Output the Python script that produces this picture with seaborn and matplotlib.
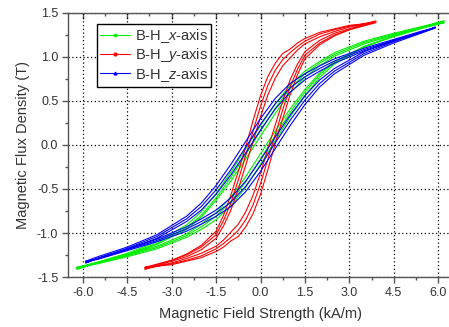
import numpy as np
import pandas as pd
import matplotlib
matplotlib.use("Agg")
import matplotlib.pyplot as plt
from matplotlib.lines import Line2D
from matplotlib.ticker import MultipleLocator
import seaborn as sns

# %% data: B-H loops (H in kA/m, B in T), ascending and descending branches per cycle
H_x = [-6.2, -5.5, -4.5, -3.5, -2.5, -2.0, -1.5, -1.0, -0.5, 0.0, 0.5, 1.0, 1.5, 2.0, 2.5, 3.5, 4.5, 5.5, 6.2]
Bx_up = [
    [-1.40, -1.345, -1.26, -1.165, -1.03, -0.93, -0.81, -0.64, -0.42, -0.16, 0.11, 0.37, 0.60, 0.80, 0.94, 1.12, 1.24, 1.335, 1.40],
    [-1.39, -1.35, -1.27, -1.18, -1.05, -0.96, -0.85, -0.69, -0.48, -0.22, 0.05, 0.32, 0.56, 0.77, 0.92, 1.11, 1.24, 1.34, 1.41],
    [-1.41, -1.34, -1.25, -1.15, -1.01, -0.90, -0.77, -0.59, -0.36, -0.10, 0.16, 0.41, 0.63, 0.82, 0.95, 1.12, 1.23, 1.33, 1.39],
]
Bx_down = [
    [-1.40, -1.335, -1.24, -1.12, -0.94, -0.80, -0.60, -0.37, -0.11, 0.16, 0.42, 0.64, 0.81, 0.93, 1.03, 1.165, 1.26, 1.345, 1.40],
    [-1.39, -1.33, -1.23, -1.10, -0.91, -0.76, -0.55, -0.31, -0.04, 0.22, 0.47, 0.68, 0.84, 0.95, 1.05, 1.18, 1.27, 1.35, 1.41],
    [-1.41, -1.34, -1.25, -1.13, -0.96, -0.82, -0.63, -0.41, -0.16, 0.10, 0.36, 0.59, 0.77, 0.90, 1.01, 1.15, 1.25, 1.34, 1.39],
]

H_y = [-3.9, -3.0, -2.5, -2.0, -1.5, -1.25, -1.0, -0.75, -0.5, -0.25, 0.0, 0.25, 0.5, 0.75, 1.0, 1.25, 1.5, 2.0, 2.5, 3.0, 3.9]
By_up = [
    [-1.40, -1.35, -1.31, -1.26, -1.18, -1.12, -1.05, -0.97, -0.85, -0.68, -0.44, -0.16, 0.12, 0.40, 0.66, 0.86, 1.02, 1.16, 1.25, 1.31, 1.40],
    [-1.39, -1.36, -1.32, -1.28, -1.21, -1.16, -1.09, -1.04, -0.93, -0.78, -0.56, -0.28, 0.02, 0.30, 0.57, 0.80, 0.98, 1.14, 1.24, 1.31, 1.39],
    [-1.41, -1.34, -1.29, -1.23, -1.15, -1.08, -0.99, -0.90, -0.76, -0.57, -0.32, -0.04, 0.23, 0.50, 0.74, 0.92, 1.06, 1.19, 1.27, 1.32, 1.41],
]
By_down = [
    [-1.40, -1.31, -1.25, -1.16, -1.02, -0.86, -0.66, -0.40, -0.12, 0.16, 0.44, 0.68, 0.85, 0.97, 1.05, 1.12, 1.18, 1.26, 1.31, 1.35, 1.40],
    [-1.39, -1.31, -1.24, -1.14, -0.98, -0.80, -0.57, -0.30, -0.02, 0.28, 0.56, 0.78, 0.93, 1.04, 1.09, 1.16, 1.21, 1.28, 1.32, 1.36, 1.39],
    [-1.41, -1.32, -1.27, -1.19, -1.06, -0.92, -0.74, -0.50, -0.23, 0.04, 0.32, 0.57, 0.76, 0.90, 0.99, 1.08, 1.15, 1.23, 1.29, 1.34, 1.41],
]

H_z = [-5.9, -5.5, -4.5, -3.5, -2.5, -2.0, -1.5, -1.0, -0.5, 0.0, 0.5, 1.0, 1.5, 2.0, 2.5, 3.5, 4.5, 5.5, 5.9]
Bz_up = [
    [-1.33, -1.295, -1.19, -1.085, -0.955, -0.87, -0.775, -0.65, -0.47, -0.235, 0.025, 0.28, 0.51, 0.70, 0.84, 1.04, 1.175, 1.285, 1.33],
    [-1.32, -1.30, -1.20, -1.10, -0.98, -0.90, -0.81, -0.70, -0.53, -0.30, -0.04, 0.22, 0.46, 0.66, 0.81, 1.02, 1.16, 1.28, 1.33],
    [-1.34, -1.29, -1.18, -1.07, -0.93, -0.84, -0.74, -0.60, -0.41, -0.17, 0.09, 0.34, 0.56, 0.74, 0.87, 1.06, 1.19, 1.29, 1.34],
]
Bz_down = [
    [-1.33, -1.285, -1.175, -1.04, -0.84, -0.70, -0.51, -0.28, -0.025, 0.235, 0.47, 0.65, 0.775, 0.87, 0.955, 1.085, 1.19, 1.295, 1.33],
    [-1.32, -1.27, -1.16, -1.02, -0.81, -0.66, -0.46, -0.22, 0.04, 0.30, 0.53, 0.70, 0.81, 0.90, 0.98, 1.10, 1.20, 1.30, 1.33],
    [-1.34, -1.29, -1.19, -1.06, -0.87, -0.74, -0.56, -0.34, -0.09, 0.17, 0.41, 0.60, 0.74, 0.84, 0.93, 1.07, 1.18, 1.29, 1.34],
]

series = ["B-H_x-axis", "B-H_y-axis", "B-H_z-axis"]
legend_labels = ["B-H_$x$-axis", "B-H_$y$-axis", "B-H_$z$-axis"]
colors = ["#00ee00", "#ff0000", "#0000ff"]
markers = ["s", "o", "^"]

# %% long table: each cycle is one closed loop (up branch then down branch back)
rows = []
for name, H, ups, downs in zip(series, [H_x, H_y, H_z], [Bx_up, By_up, Bz_up], [Bx_down, By_down, Bz_down]):
    for c, (up, down) in enumerate(zip(ups, downs)):
        hh = list(H) + list(H)[::-1]
        bb = list(up) + list(down)[::-1]
        for i, (h, b) in enumerate(zip(hh, bb)):
            rows.append({"H": h, "B": b, "axis": name, "cycle": f"{name}_{c}", "order": i})
df = pd.DataFrame(rows)

# %% plot
sns.set_style("white")
plt.rcParams["font.family"] = ["Liberation Sans", "DejaVu Sans"]
plt.rcParams["mathtext.fontset"] = "custom"
plt.rcParams["mathtext.it"] = "Liberation Sans:italic"
plt.rcParams["mathtext.rm"] = "Liberation Sans"

fig = plt.figure(figsize=(4.49, 3.27), dpi=100)
ax = fig.add_axes([68 / 449, 50 / 327, 385 / 449, 264 / 327])

sns.lineplot(data=df, x="H", y="B", hue="axis", units="cycle", estimator=None, sort=False,
             palette=dict(zip(series, colors)), lw=0.8, legend=False, ax=ax)

ax.set_xlim(-6.5, 6.5)
ax.set_ylim(-1.5, 1.5)
ax.xaxis.set_minor_locator(MultipleLocator(0.75))
ax.yaxis.set_major_locator(MultipleLocator(0.5))
ax.yaxis.set_minor_locator(MultipleLocator(0.25))
xt = np.arange(-6.0, 6.01, 1.5)
ax.set_xticks(xt)
ax.set_xticklabels([f"{v:.1f}" for v in xt])
ax.set_yticklabels([f"{v:.1f}" for v in ax.get_yticks()])

ax.grid(True, which="major", color="black", linestyle=(0, (1, 2)), linewidth=0.9)
for s in ["left", "bottom", "top", "right"]:
    ax.spines[s].set_color("#555555")
    ax.spines[s].set_linewidth(1.0)
ax.tick_params(which="major", direction="out", length=4, width=1, color="#555555",
               labelsize=9, labelcolor="#333333", pad=3)
ax.tick_params(which="minor", direction="out", length=2.5, width=1, color="#555555")
ax.tick_params(which="both", bottom=True, left=True)

top = ax.secondary_xaxis("top")
top.set_xticks(xt)
top.xaxis.set_minor_locator(MultipleLocator(0.75))
top.tick_params(which="both", direction="in", labeltop=False, color="#555555", width=1)
top.tick_params(which="major", length=4)
top.tick_params(which="minor", length=2.5)
top.spines["top"].set_visible(False)

ax.set_xlabel("Magnetic Field Strength (kA/m)", fontsize=10.5, color="#333333", labelpad=6)
ax.set_ylabel("Magnetic Flux Density (T)", fontsize=10.5, color="#333333", labelpad=5)

handles = [Line2D([], [], color=c, lw=0.8, marker=m, markersize=2) for c, m in zip(colors, markers)]
leg = ax.legend(handles, legend_labels, loc="upper left", bbox_to_anchor=(0.075, 0.958),
                borderaxespad=0, fontsize=10.5, frameon=True, fancybox=False, framealpha=1,
                edgecolor="black", handlelength=2.05, handletextpad=0.35, labelspacing=0.08,
                borderpad=0.22)
leg.get_frame().set_linewidth(1.0)
for t in leg.get_texts():
    t.set_color("#333333")

fig.savefig("out.png", dpi=100)
plt.close("all")
